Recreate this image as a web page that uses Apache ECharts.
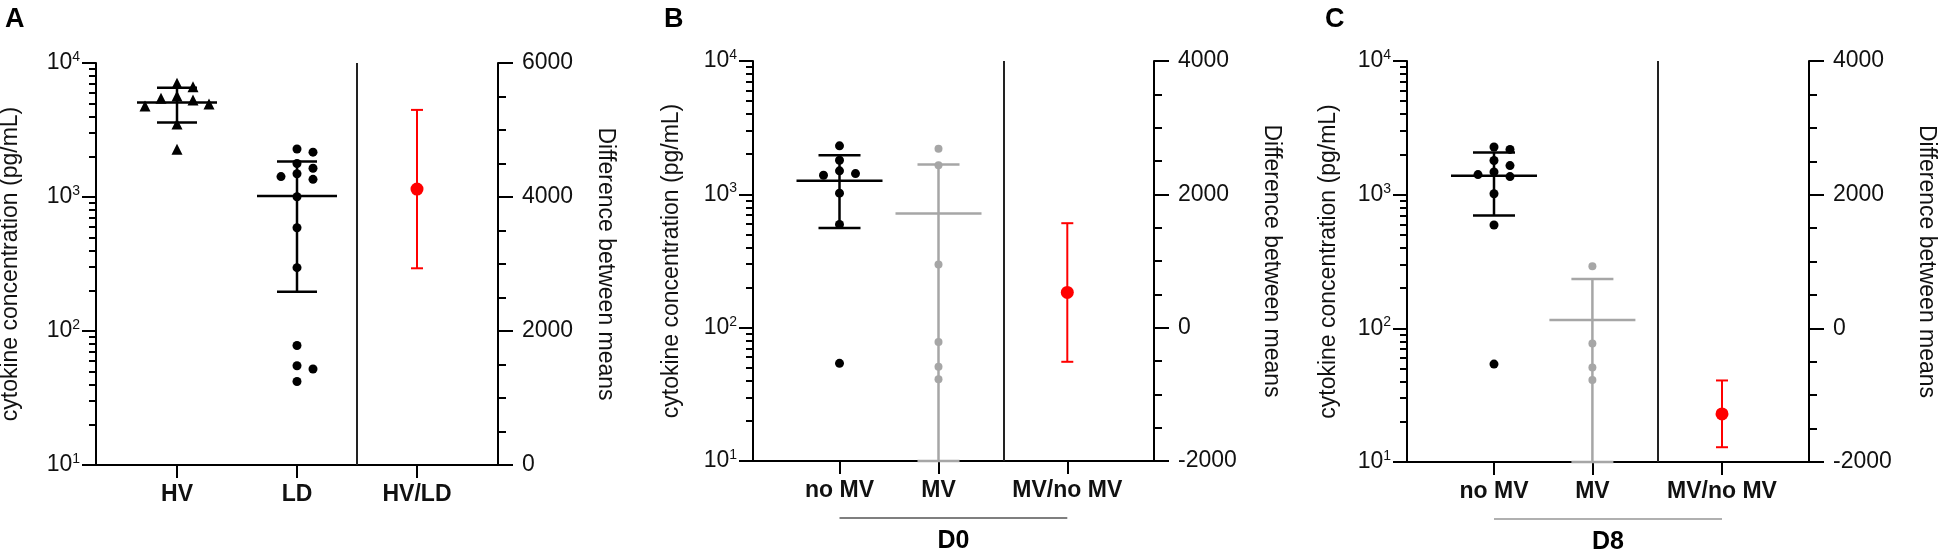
<!DOCTYPE html>
<html>
<head>
<meta charset="utf-8">
<script src="https://cdn.jsdelivr.net/npm/echarts@6.0.0/dist/echarts.min.js"></script>
<style>
html, body { margin: 0; padding: 0; background: #fff; }
#chart { width: 1940px; height: 551px; }
</style>
</head>
<body>
<div id="chart"></div>
<script>
// A: cytokine concentration (pg/mL), healthy volunteers vs LD
const hvValues = [7050, 6650, 5670, 5450, 5300, 4940, 4780, 3500, 2270]
const ldValues = [2280, 2160, 1780, 1640, 1490, 1420, 1355, 1005, 590, 297, 78, 55, 52, 42]
const diffA = [4118, 2936, 5300]   // difference between means, low, high

// B: D0
const d0NoMv = [2310, 1800, 1500, 1430, 1390, 1020, 595, 54]
const d0Mv = [2200, 1650, 298, 78, 51, 41]
const diffB = [528, -512, 1567]

// C: D8
const d8NoMv = [2275, 2180, 1800, 1650, 1480, 1413, 1365, 1016, 593, 54]
const d8Mv = [292, 77, 51, 41]
const diffC = [-1280, -1779, -780]

const catsA = ['HV', 'LD', 'HV/LD']
const catsBC = ['no MV', 'MV', 'MV/no MV']

const FONT = '"Liberation Sans", Arial, Helvetica, sans-serif'
const BLACK = '#000'
const GREY = '#a6a6a6'
const RED = '#ff0000'
const LOG_MIN = 10
const LOG_MAX = 10000

const panels = [
    {
        letter: 'A', letterX: 0,
        grid: { left: 96, top: 63, width: 402, height: 402 },
        cats: catsA, catX: [81, 201, 321], sepX: 261,
        groups: [
            { values: hvValues, color: BLACK, symbol: 'triangle', size: 11 },
            { values: ldValues, color: BLACK, symbol: 'circle', size: 9 }
        ],
        diff: diffA, diffMin: 0, diffMax: 6000,
        halfMean: 40, halfCap: 20, leftGap: 74, rightGap: 96
    },
    {
        letter: 'B', letterX: 659,
        grid: { left: 753, top: 61, width: 401, height: 400 },
        cats: catsBC, catX: [86.5, 185.5, 314.3], sepX: 250.3,
        groups: [
            { values: d0NoMv, color: BLACK, symbol: 'circle', size: 9 },
            { values: d0Mv, color: GREY, symbol: 'circle', size: 8 }
        ],
        diff: diffB, diffMin: -2000, diffMax: 4000,
        halfMean: 43, halfCap: 21, leftGap: 70, rightGap: 106,
        bracket: { text: 'D0', color: '#555', width: 1.5 }
    },
    {
        letter: 'C', letterX: 1320,
        grid: { left: 1407, top: 61, width: 402, height: 401 },
        cats: catsBC, catX: [87, 185.4, 315], sepX: 250.4,
        groups: [
            { values: d8NoMv, color: BLACK, symbol: 'circle', size: 9 },
            { values: d8Mv, color: GREY, symbol: 'circle', size: 8 }
        ],
        diff: diffC, diffMin: -2000, diffMax: 4000,
        halfMean: 43, halfCap: 21, leftGap: 67, rightGap: 106,
        bracket: { text: 'D8', color: '#b0b0b0', width: 2 }
    }
]

function mean(a) { return a.reduce((s, v) => s + v, 0) / a.length }
function sd(a) {
    const m = mean(a)
    return Math.sqrt(a.reduce((s, v) => s + (v - m) * (v - m), 0) / (a.length - 1))
}

// minor ticks of the log axis (2..9 of each decade), drawn on a hidden helper axis in log10 units
const minorLog = []
for (let d = 1; d < 4; d++) {
    for (let k = 2; k < 10; k++) minorLog.push(Math.log10(k * Math.pow(10, d)))
}

const textBase = { fontFamily: FONT, color: '#111' }
const grids = [], xAxes = [], yAxes = [], series = [], titles = []

panels.forEach((p, i) => {
    grids.push(Object.assign({ containLabel: false, outerBoundsMode: 'none' }, p.grid))
    titles.push({
        text: p.letter, left: p.letterX, top: 1,
        textStyle: { fontFamily: FONT, fontSize: 27, fontWeight: 'bold', color: '#000' }
    })

    xAxes.push({
        gridIndex: i, type: 'value', min: 0, max: p.grid.width,
        axisLine: { show: true, onZero: false, lineStyle: { color: BLACK, width: 2 } },
        axisTick: { show: true, customValues: p.catX, length: 13, lineStyle: { color: BLACK, width: 2 } },
        axisLabel: Object.assign({}, textBase, {
            customValues: p.catX, margin: 18, fontSize: 23, fontWeight: 'bold',
            formatter: v => p.cats[p.catX.findIndex(c => Math.abs(c - v) < 0.01)] || ''
        }),
        splitLine: { show: false }
    })

    yAxes.push(
        {
            gridIndex: i, type: 'log', logBase: 10, min: LOG_MIN, max: LOG_MAX, position: 'left',
            axisLine: { show: true, lineStyle: { color: BLACK, width: 2 } },
            axisTick: { show: true, length: 14, lineStyle: { color: BLACK, width: 2 } },
            axisLabel: {
                margin: 16, showMinLabel: true, showMaxLabel: true,
                formatter: v => '{b|10}{s|' + Math.round(Math.log10(v)) + '}',
                rich: {
                    b: Object.assign({}, textBase, { fontSize: 23, lineHeight: 26 }),
                    s: Object.assign({}, textBase, { fontSize: 14, lineHeight: 26, verticalAlign: 'top' })
                }
            },
            splitLine: { show: false },
            name: 'cytokine concentration (pg/mL)', nameLocation: 'middle', nameGap: p.leftGap,
            nameTextStyle: Object.assign({}, textBase, { fontSize: 23 })
        },
        {
            gridIndex: i, type: 'value', min: p.diffMin, max: p.diffMax, interval: 2000, position: 'right',
            axisLine: { show: true, onZero: false, lineStyle: { color: BLACK, width: 2 } },
            axisTick: { show: true, length: 15, lineStyle: { color: BLACK, width: 2 } },
            minorTick: { show: true, splitNumber: 4, length: 8, lineStyle: { color: BLACK, width: 2 } },
            axisLabel: Object.assign({}, textBase, {
                margin: 24, fontSize: 23, showMinLabel: true, showMaxLabel: true,
                formatter: v => String(v)
            }),
            splitLine: { show: false }, minorSplitLine: { show: false },
            name: 'Difference between means', nameLocation: 'middle', nameGap: p.rightGap, nameRotate: -90,
            nameTextStyle: Object.assign({}, textBase, { fontSize: 23 })
        },
        {
            gridIndex: i, type: 'value', min: 1, max: 4, position: 'left',
            axisLine: { show: false },
            axisTick: { show: true, customValues: minorLog, length: 7, lineStyle: { color: BLACK, width: 2 } },
            axisLabel: { show: false },
            splitLine: { show: false }
        }
    )

    // mean +/- SD bars
    series.push({
        type: 'custom', xAxisIndex: i, yAxisIndex: 3 * i, z: 2, silent: true,
        encode: { x: 0, y: [1, 2, 3] },
        data: p.groups.map((g, k) => {
            const m = mean(g.values), s = sd(g.values)
            return [p.catX[k], m, Math.max(m - s, LOG_MIN), m + s, k]
        }),
        renderItem: (params, api) => {
            const g = p.groups[api.value(4)]
            const c = api.coord([api.value(0), api.value(1)])
            const lo = api.coord([api.value(0), api.value(2)])
            const hi = api.coord([api.value(0), api.value(3)])
            const st = { stroke: g.color, lineWidth: 2.5 }
            return {
                type: 'group',
                children: [
                    { type: 'line', shape: { x1: c[0], y1: lo[1], x2: c[0], y2: hi[1] }, style: st },
                    { type: 'line', shape: { x1: c[0] - p.halfMean, y1: c[1], x2: c[0] + p.halfMean, y2: c[1] }, style: st },
                    { type: 'line', shape: { x1: c[0] - p.halfCap, y1: lo[1], x2: c[0] + p.halfCap, y2: lo[1] }, style: st },
                    { type: 'line', shape: { x1: c[0] - p.halfCap, y1: hi[1], x2: c[0] + p.halfCap, y2: hi[1] }, style: st }
                ]
            }
        }
    })

    // individual values
    p.groups.forEach((g, k) => {
        const s = {
            id: 'pts-' + i + '-' + k,
            type: 'scatter', xAxisIndex: i, yAxisIndex: 3 * i, z: 3, silent: true,
            symbol: g.symbol, symbolSize: g.size,
            itemStyle: { color: g.color, opacity: 1 },
            data: g.values.map(v => [p.catX[k], v])
        }
        if (k === 0) {
            s.markLine = {
                silent: true, symbol: 'none', label: { show: false },
                lineStyle: { color: '#222', width: 2, type: 'solid' },
                data: [{ xAxis: p.sepX }]
            }
        }
        series.push(s)
    })

    // difference between means with interval
    series.push({
        type: 'custom', xAxisIndex: i, yAxisIndex: 3 * i + 1, z: 4, silent: true,
        encode: { x: 0, y: [1, 2, 3] },
        data: [[p.catX[2], p.diff[0], p.diff[1], p.diff[2]]],
        renderItem: (params, api) => {
            const c = api.coord([api.value(0), api.value(1)])
            const lo = api.coord([api.value(0), api.value(2)])
            const hi = api.coord([api.value(0), api.value(3)])
            const st = { stroke: RED, lineWidth: 2 }
            return {
                type: 'group',
                children: [
                    { type: 'line', shape: { x1: c[0], y1: lo[1], x2: c[0], y2: hi[1] }, style: st },
                    { type: 'line', shape: { x1: c[0] - 6, y1: lo[1], x2: c[0] + 6, y2: lo[1] }, style: st },
                    { type: 'line', shape: { x1: c[0] - 6, y1: hi[1], x2: c[0] + 6, y2: hi[1] }, style: st },
                    { type: 'circle', shape: { cx: c[0], cy: c[1], r: 6.5 }, style: { fill: RED } }
                ]
            }
        }
    })

    // day bracket under the x axis
    if (p.bracket) {
        const b = p.bracket
        series.push({
            type: 'custom', xAxisIndex: i, yAxisIndex: 3 * i, z: 4, silent: true,
            encode: { x: [0, 1], y: 2 },
            data: [[p.catX[0], p.catX[2], LOG_MIN]],
            renderItem: (params, api) => {
                const a = api.coord([api.value(0), LOG_MIN])
                const e = api.coord([api.value(1), LOG_MIN])
                return {
                    type: 'group',
                    children: [
                        { type: 'line', shape: { x1: a[0], y1: a[1] + 57, x2: e[0], y2: e[1] + 57 },
                          style: { stroke: b.color, lineWidth: b.width } },
                        { type: 'text', style: {
                            text: b.text, x: (a[0] + e[0]) / 2, y: a[1] + 80,
                            align: 'center', verticalAlign: 'middle',
                            font: 'bold 25px ' + FONT, fill: '#000'
                        } }
                    ]
                }
            }
        })
    }
})

const chart = echarts.init(document.getElementById('chart'))
chart.setOption({
    animation: false,
    backgroundColor: '#fff',
    title: titles,
    grid: grids,
    xAxis: xAxes,
    yAxis: yAxes,
    series: series
})

// spread overlapping points sideways (greedy beeswarm in pixel space)
function swarm(ys, order, step, gap) {
    const placed = [], offs = []
    order.forEach(j => {
        for (let t = 0; t < 40; t++) {
            const slot = t === 0 ? 0 : (t % 2 ? (t + 1) / 2 : -t / 2)
            if (!placed.some(q => q.slot === slot && Math.abs(q.y - ys[j]) < gap)) {
                placed.push({ slot: slot, y: ys[j] })
                offs[j] = slot * step
                break
            }
        }
    })
    return offs
}

const updates = []
panels.forEach((p, i) => {
    p.groups.forEach((g, k) => {
        const id = 'pts-' + i + '-' + k
        const ys = g.values.map(v => chart.convertToPixel({ seriesId: id }, [p.catX[k], v])[1])
        const order = g.values.map((v, j) => j).sort((a, b) => g.values[b] - g.values[a])
        const offs = swarm(ys, order, 16, g.size + 1)
        updates.push({
            id: id,
            data: g.values.map((v, j) => ({ value: [p.catX[k], v], symbolOffset: [offs[j], 0] }))
        })
    })
})
chart.setOption({ series: updates })
</script>
</body>
</html>
